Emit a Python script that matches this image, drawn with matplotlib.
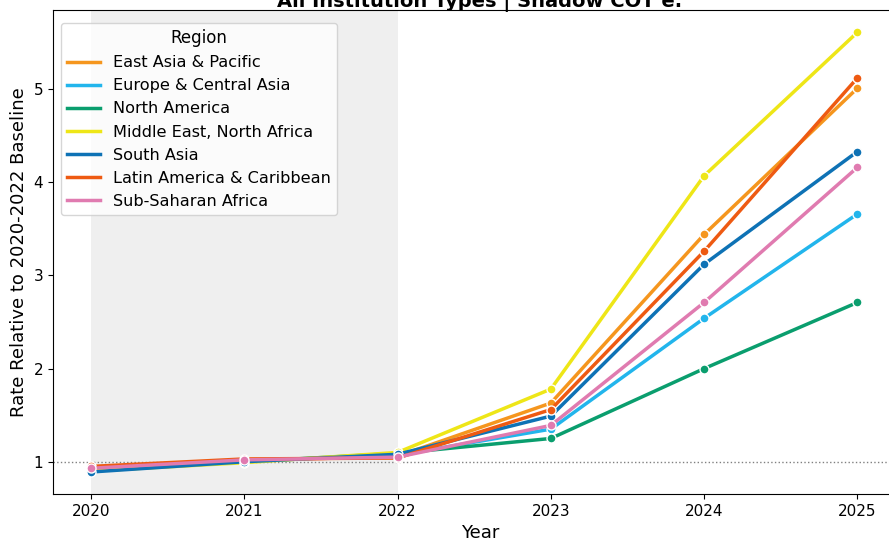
import matplotlib.pyplot as plt
from matplotlib.lines import Line2D

years = [2020, 2021, 2022, 2023, 2024, 2025]

regions = [
    "East Asia & Pacific",
    "Europe & Central Asia",
    "North America",
    "Middle East, North Africa",
    "South Asia",
    "Latin America & Caribbean",
    "Sub-Saharan Africa",
]

east_asia = [0.93, 1.01, 1.06, 1.63, 3.44, 5.01]
europe = [0.91, 1.01, 1.07, 1.35, 2.54, 3.66]
north_america = [0.90, 1.00, 1.09, 1.25, 2.00, 2.71]
mena = [0.90, 0.99, 1.10, 1.78, 4.07, 5.61]
south_asia = [0.89, 1.00, 1.08, 1.49, 3.12, 4.33]
latin_america = [0.95, 1.03, 1.04, 1.56, 3.26, 5.12]
sub_saharan = [0.93, 1.02, 1.05, 1.39, 2.71, 4.16]

series = [east_asia, europe, north_america, mena, south_asia, latin_america, sub_saharan]
colors = ["#F5961E", "#22B5EC", "#0A9E6E", "#EEE617", "#0E72B5", "#EE5A12", "#E07BB0"]

fig = plt.figure(figsize=(8.89, 5.42), dpi=100)
# right edge of the axes falls outside the picture (reference is cropped there)
ax = fig.add_axes([0.0596, 0.0886, 0.96, 0.893])

ax.axvspan(2020, 2022, color="gray", alpha=0.12, lw=0)
ax.axhline(1, color="gray", ls=":", lw=1)

handles = []
for name, vals, c in zip(regions, series, colors):
    ax.plot(years, vals, color=c, lw=2.5, marker="o", ms=6.5,
            markeredgecolor="white", markeredgewidth=1)
    handles.append(Line2D([], [], color=c, lw=2.5, label=name))

ax.set_xlim(2019.752, 2025.32)
ax.set_ylim(0.654, 5.85)
ax.set_xticks(years)
ax.set_yticks([1, 2, 3, 4, 5])
ax.tick_params(labelsize=11)
ax.set_xlabel("Year", fontsize=13)
ax.set_ylabel("Rate Relative to 2020-2022 Baseline", fontsize=13)
# title sits mostly above the picture, as in the cropped reference
ax.set_title("All Institution Types | Shadow COT e.", fontsize=14,
             fontweight="bold", y=1.006, pad=0)

ax.legend(handles=handles, title="Region", loc="upper left", fontsize=11.6,
          title_fontsize=12, bbox_to_anchor=(0.0, 0.99))

fig.savefig("out.png", dpi=100)
